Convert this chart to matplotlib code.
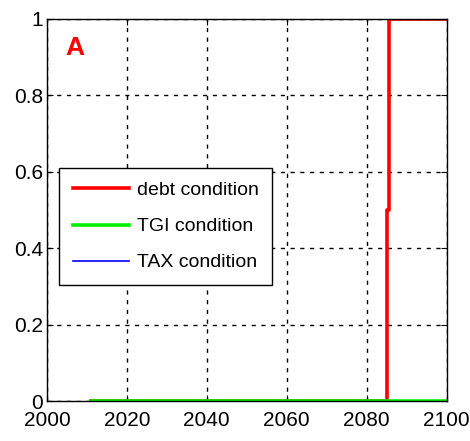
import matplotlib
matplotlib.use('Agg')
from matplotlib import pyplot as plt

plt.rcParams['font.family'] = ['Liberation Sans', 'DejaVu Sans']

# step series (year, value)
debt_years = [2011, 2085.2, 2085.2, 2085.6, 2085.6, 2100]
debt_values = [0, 0, 0.5, 0.5, 1, 1]
tgi_years = [2011, 2100]
tgi_values = [0, 0]
tax_years = [2011, 2100]
tax_values = [0, 0]

fig = plt.figure(figsize=(4.7, 4.41), dpi=100)
ax = fig.add_axes([0.1, 0.09, 0.85, 0.867])

ax.plot(debt_years, debt_values, color='#ff0000', lw=2.6, label='debt condition')
ax.plot(tax_years, tax_values, color='#0000ff', lw=1.2, label='TAX condition', zorder=1.9)
ax.plot(tgi_years, tgi_values, color='#00ee00', lw=2.6, label='TGI condition')

ax.set_xlim(2000, 2100)
ax.set_ylim(0, 1)
ax.set_xticks(range(2000, 2101, 20))
ax.set_yticks([0, 0.2, 0.4, 0.6, 0.8, 1])
ax.set_yticklabels(['0', '0.2', '0.4', '0.6', '0.8', '1'])
ax.tick_params(direction='in', top=True, right=True, labelsize=15, length=4, pad=3)
ax.tick_params(axis='x', pad=7)
ax.grid(True, color='black', linestyle=(0, (3, 4)), linewidth=1)
for s in ax.spines.values():
    s.set_linewidth(1)

ax.text(0.045, 0.955, 'A', transform=ax.transAxes, color='#ff0000',
        fontsize=19, fontweight='bold', va='top', ha='left')

handles, labels = ax.get_legend_handles_labels()
order = [0, 2, 1]
ax.legend([handles[i] for i in order], [labels[i] for i in order],
          loc='upper left', bbox_to_anchor=(0.03, 0.61), fontsize=14,
          fancybox=False, edgecolor='black', framealpha=1, handlelength=2.9,
          handletextpad=0.4, borderpad=0.7, labelspacing=0.95, borderaxespad=0)

plt.savefig('out.png')
plt.close()
